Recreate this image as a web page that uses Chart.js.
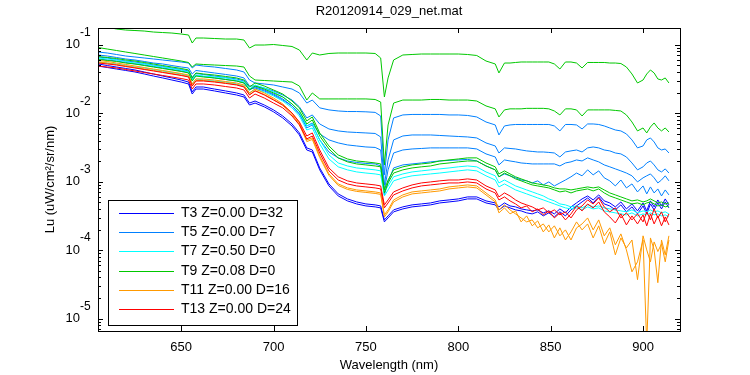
<!DOCTYPE html>
<html>
<head>
<meta charset="utf-8">
<script src="https://cdn.jsdelivr.net/npm/chart.js@4"></script>
<style>
  html, body { margin: 0; padding: 0; background: #fff; }
  #wrap { width: 750px; height: 375px; }
</style>
</head>
<body>
<div id="wrap"><canvas id="spectra" width="750" height="375"></canvas></div>
<script>
// Wavelength grid (nm) shared by every cast
const wl = [
  605, 610, 615, 620, 625, 630, 635, 640, 645, 650,
  654, 656, 658, 662, 668, 674, 680, 684, 687, 690,
  695, 700, 705, 710, 714, 718, 721, 725, 730, 735,
  740, 745, 750, 755, 758, 760, 762, 765, 770, 775,
  780, 785, 790, 795, 800, 805, 810, 815, 820, 822,
  825, 828, 831, 834, 837, 840, 843, 846, 849, 852,
  855, 858, 861, 864, 867, 870, 873, 876, 879, 882,
  885, 888, 891, 894, 897, 900, 902, 904, 906, 908,
  910, 912, 914
];

// T3 (dark blue)
const t3a = [
  .0490, .0466, .0443, .0422, .0401, .0375, .0350, .0328, .0306, .0286,
  .0268, .0191, .0226, .0226, .0212, .0198, .0185, .0173, .0132, .0141,
  .0124, .0105, .00854, .00653, .00482, .00291, .00272, .00149, .000868, .000620,
  .000525, .000474, .000443, .000429, .000415, .000259, .000296, .000363, .000401, .000429,
  .000443, .000459, .000490, .000507, .000525, .000561, .000561, .000490, .000459, .000388,
  .000443, .000415, .000388, .000375, .000351, .000339, .000363, .000317, .000351, .000306,
  .000363, .000317, .000388, .000443, .000507, .000580, .000490, .000600, .000474, .000443,
  .000388, .000459, .000363, .000429, .000339, .000443, .000339, .000474, .000388, .000490,
  .000401, .000507, .000415
];
const t3b = [
  .0525, .0498, .0474, .0451, .0429, .0401, .0375, .0350, .0328, .0306,
  .0286, .0205, .0242, .0242, .0226, .0212, .0198, .0185, .0141, .0151,
  .0132, .0112, .00913, .00698, .00516, .00312, .00291, .00159, .000929, .000664,
  .000561, .000507, .000474, .000459, .000443, .000277, .000317, .000388, .000429, .000459,
  .000474, .000490, .000525, .000542, .000561, .000600, .000600, .000525, .000490, .000429,
  .000490, .000443, .000429, .000401, .000388, .000375, .000388, .000351, .000375, .000339,
  .000401, .000351, .000429, .000490, .000561, .000620, .000542, .000642, .000525, .000490,
  .000429, .000507, .000401, .000474, .000375, .000490, .000375, .000525, .000429, .000542,
  .000443, .000561, .000459
];

// T5 (light blue)
const t5a = [
  .0785, .0759, .0722, .0686, .0664, .0642, .0621, .0600, .0580, .0561,
  .0542, .0459, .0507, .0490, .0474, .0451, .0429, .0401, .0306, .0277,
  .0268, .0259, .0242, .0226, .0198, .0141, .0156, .0120, .0112, .0108,
  .0106, .0106, .0105, .0103, .00913, .00126, .00408, .00854, .00945, .00961,
  .00961, .00961, .00961, .00945, .00945, .00929, .00883, .00746, .00675, .00482,
  .00653, .00675, .00686, .00686, .00686, .00686, .00686, .00686, .00686, .00653,
  .00552, .00686, .00686, .00675, .00590, .00698, .00698, .00686, .00653, .00610,
  .00570, .00552, .00499, .00408, .00312, .00333, .00408, .00436, .00381, .00312,
  .00291, .00301, .00263
];
const t5b = [
  .0710, .0686, .0653, .0621, .0600, .0571, .0542, .0525, .0498, .0474,
  .0459, .0375, .0422, .0408, .0388, .0369, .0350, .0328, .0250, .0250,
  .0234, .0212, .0185, .0156, .0124, .00854, .00945, .00698, .00590, .00552,
  .00533, .00524, .00516, .00507, .00451, .000898, .00208, .00408, .00466, .00482,
  .00482, .00482, .00474, .00466, .00458, .00451, .00436, .00369, .00333, .00263,
  .00312, .00306, .00301, .00291, .00282, .00277, .00272, .00272, .00268, .00263,
  .00230, .00272, .00282, .00291, .00272, .00312, .00322, .00312, .00291, .00282,
  .00263, .00255, .00230, .00188, .00149, .00165, .00188, .00201, .00176, .00149,
  .00139, .00154, .00134
];
const t5c = [
  .0664, .0642, .0610, .0580, .0561, .0533, .0507, .0482, .0459, .0436,
  .0415, .0339, .0381, .0369, .0350, .0333, .0317, .0296, .0226, .0234,
  .0212, .0185, .0156, .0128, .00977, .00653, .00722, .00499, .00408, .00369,
  .00345, .00333, .00322, .00317, .00291, .000759, .00149, .00263, .00291, .00301,
  .00306, .00312, .00312, .00312, .00312, .00312, .00301, .00255, .00230, .00176,
  .00208, .00201, .00195, .00188, .00185, .00182, .00182, .00182, .00182, .00182,
  .00170, .00188, .00195, .00208, .00201, .00223, .00208, .00195, .00176, .00165,
  .00154, .00144, .00134, .00122, .000993, .00114, .00122, .00130, .00114, .000960,
  .00106, .00122, .00103
];
const t5d = [
  .0621, .0600, .0580, .0552, .0525, .0507, .0482, .0459, .0436, .0415,
  .0394, .0317, .0356, .0345, .0328, .0312, .0296, .0277, .0219, .0242,
  .0219, .0191, .0162, .0128, .00977, .00610, .00675, .00408, .00272, .00223,
  .00201, .00191, .00185, .00182, .00170, .000642, .000993, .00159, .00176, .00182,
  .00188, .00195, .00201, .00205, .00208, .00212, .00201, .00170, .00149, .00118,
  .00130, .00122, .00114, .00106, .00103, .000960, .00103, .000898, .000993, .000868,
  .000960, .00106, .00118, .00134, .00122, .00149, .00126, .00144, .00114, .00103,
  .000868, .00106, .000812, .000929, .000710, .000868, .000664, .000840, .000686, .000785,
  .000620, .000759, .000642
];

// T7 (cyan)
const t7a = [
  .0642, .0621, .0600, .0571, .0542, .0525, .0498, .0474, .0451, .0429,
  .0401, .0306, .0362, .0350, .0339, .0328, .0306, .0286, .0226, .0259,
  .0234, .0205, .0173, .0137, .0105, .00653, .00698, .00408, .00246, .00188,
  .00170, .00159, .00154, .00149, .00144, .000710, .000868, .00118, .00130, .00139,
  .00144, .00149, .00154, .00159, .00165, .00170, .00165, .00139, .00122, .000960,
  .00106, .000960, .000868, .000812, .000759, .000710, .000664, .000620, .000561, .000525,
  .000474, .000459, .000429, .000443, .000415, .000459, .000429, .000443, .000415, .000401,
  .000388, .000375, .000363, .000388, .000351, .000375, .000363, .000388, .000363, .000375,
  .000351, .000363, .000339
];
const t7b = [
  .0561, .0542, .0525, .0498, .0474, .0459, .0436, .0415, .0394, .0375,
  .0350, .0268, .0317, .0306, .0296, .0286, .0268, .0250, .0198, .0226,
  .0205, .0179, .0151, .0120, .00913, .00570, .00610, .00356, .00215, .00165,
  .00149, .00139, .00134, .00130, .00126, .000620, .000759, .00103, .00114, .00122,
  .00126, .00130, .00134, .00139, .00144, .00149, .00144, .00122, .00106, .000840,
  .000929, .000840, .000759, .000710, .000664, .000620, .000580, .000542, .000507, .000474,
  .000443, .000415, .000401, .000415, .000388, .000429, .000401, .000415, .000375, .000363,
  .000351, .000339, .000328, .000351, .000317, .000339, .000328, .000351, .000328, .000339,
  .000317, .000328, .000306
];

// T9 (green)
const t9a = [
  .1945, .1819, .1700, .1644, .1617, .1590, .1537, .1511, .1486, .1437,
  .1390, .1062, .1257, .1257, .1236, .1215, .1215, .1175, .0898, .0993,
  .0993, .1010, .0977, .0945, .0840, .0600, .0759, .0710, .0747, .0759,
  .0759, .0759, .0759, .0747, .0642, .0173, .0328, .0600, .0710, .0722,
  .0734, .0734, .0734, .0734, .0734, .0722, .0698, .0580, .0525, .0388,
  .0542, .0542, .0552, .0561, .0561, .0561, .0561, .0561, .0561, .0525,
  .0443, .0561, .0561, .0542, .0459, .0552, .0552, .0552, .0552, .0542,
  .0542, .0533, .0474, .0375, .0277, .0306, .0375, .0429, .0388, .0317,
  .0306, .0328, .0277
];
const t9b = [
  .0913, .0868, .0826, .0785, .0747, .0710, .0675, .0642, .0610, .0580,
  .0552, .0474, .0525, .0516, .0507, .0498, .0490, .0474, .0350, .0306,
  .0301, .0296, .0291, .0286, .0250, .0156, .0198, .0162, .0162, .0162,
  .0162, .0162, .0162, .0159, .0146, .00176, .00675, .0141, .0156, .0156,
  .0156, .0159, .0159, .0156, .0156, .0156, .0151, .0128, .0116, .00883,
  .0112, .0116, .0116, .0116, .0118, .0118, .0118, .0118, .0116, .0108,
  .00945, .0116, .0116, .0112, .00913, .0112, .0112, .0112, .0112, .0112,
  .0110, .0108, .00945, .00746, .00552, .00610, .00516, .00631, .00722, .00610,
  .00552, .00610, .00533
];
const t9c = [
  .0675, .0653, .0631, .0600, .0580, .0552, .0525, .0498, .0474, .0451,
  .0429, .0328, .0388, .0375, .0362, .0345, .0328, .0306, .0242, .0277,
  .0250, .0219, .0191, .0151, .0120, .00772, .00883, .00516, .00333, .00246,
  .00215, .00201, .00195, .00188, .00182, .000759, .00106, .00149, .00165, .00176,
  .00182, .00188, .00201, .00208, .00215, .00223, .00223, .00188, .00165, .00130,
  .00144, .00130, .00118, .00110, .00103, .000960, .000929, .000898, .000868, .000812,
  .000785, .000785, .000759, .000785, .000812, .000840, .000812, .000840, .000759, .000686,
  .000642, .000600, .000561, .000525, .000542, .000507, .000525, .000561, .000525, .000490,
  .000507, .000474, .000490
];
const t9d = [
  .0610, .0590, .0571, .0542, .0525, .0498, .0474, .0451, .0429, .0408,
  .0388, .0296, .0350, .0339, .0328, .0312, .0296, .0277, .0219, .0250,
  .0226, .0198, .0173, .0137, .0108, .00698, .00798, .00466, .00301, .00223,
  .00195, .00182, .00176, .00170, .00165, .000686, .000960, .00134, .00149, .00159,
  .00165, .00170, .00182, .00188, .00195, .00201, .00201, .00170, .00149, .00118,
  .00134, .00122, .00110, .00103, .000960, .000898, .000868, .000840, .000812, .000759,
  .000710, .000734, .000686, .000734, .000759, .000785, .000734, .000785, .000686, .000620,
  .000580, .000542, .000507, .000474, .000490, .000459, .000490, .000507, .000474, .000443,
  .000459, .000429, .000443
];

// T11 (orange)
const t11a = [
  .0590, .0571, .0542, .0516, .0490, .0466, .0443, .0422, .0401, .0381,
  .0362, .0268, .0317, .0317, .0306, .0291, .0277, .0259, .0198, .0226,
  .0198, .0167, .0137, .0101, .00722, .00408, .00436, .00238, .00130, .000929,
  .000812, .000759, .000734, .000710, .000686, .000328, .000388, .000542, .000642, .000710,
  .000734, .000759, .000785, .000840, .000868, .000898, .000868, .000686, .000542, .000388,
  .000459, .000388, .000339, .000296, .000259, .000277, .000212, .000242, .000185, .000227,
  .000162, .000198, .000141, .000212, .000242, .000296, .000198, .000277, .000162, .000212,
  .000120, .000173, .000101, .0000483, .0000676, .000141, .0000042, .000151, .000101, .0000335,
  .000141, .0000854, .000162
];
const t11b = [
  .0561, .0542, .0516, .0490, .0466, .0443, .0422, .0401, .0381, .0362,
  .0345, .0254, .0301, .0301, .0291, .0277, .0263, .0246, .0188, .0215,
  .0188, .0159, .0130, .00961, .00686, .00386, .00414, .00226, .00124, .000883,
  .000772, .000722, .000698, .000675, .000653, .000306, .000363, .000507, .000600, .000664,
  .000686, .000710, .000734, .000785, .000812, .000840, .000812, .000642, .000507, .000351,
  .000415, .000339, .000375, .000259, .000317, .000227, .000268, .000185, .000234, .000151,
  .000212, .000141, .000185, .000259, .000198, .000242, .000151, .000227, .000124, .000185,
  .0000854, .000151, .000108, .000141, .0000371, .000162, .000101, .0000676, .000132, .0000955,
  .000124, .0000676, .000141
];

// T13 (red)
const t13a = [
  .0542, .0525, .0507, .0482, .0459, .0436, .0415, .0394, .0375, .0356,
  .0339, .0250, .0296, .0296, .0286, .0273, .0259, .0242, .0185, .0212,
  .0185, .0156, .0132, .0101, .00746, .00466, .00516, .00291, .00159, .00118,
  .00103, .000960, .000929, .000898, .000868, .000459, .000542, .000710, .000812, .000898,
  .000960, .000993, .00103, .00106, .00106, .00110, .00106, .000868, .000759, .000600,
  .000686, .000620, .000542, .000490, .000459, .000429, .000388, .000415, .000351, .000388,
  .000328, .000363, .000296, .000388, .000443, .000542, .000474, .000580, .000429, .000363,
  .000415, .000296, .000351, .000277, .000339, .000259, .000363, .000277, .000401, .000296,
  .000363, .000259, .000339
];
const t13b = [
  .0490, .0474, .0459, .0436, .0415, .0394, .0375, .0356, .0339, .0322,
  .0306, .0226, .0268, .0268, .0259, .0246, .0234, .0219, .0167, .0191,
  .0167, .0141, .0120, .00913, .00675, .00422, .00466, .00263, .00144, .00106,
  .000929, .000868, .000840, .000812, .000785, .000415, .000490, .000642, .000734, .000812,
  .000868, .000898, .000929, .000960, .000960, .000993, .000960, .000785, .000686, .000542,
  .000600, .000525, .000474, .000415, .000443, .000363, .000401, .000328, .000375, .000296,
  .000351, .000277, .000339, .000443, .000375, .000474, .000415, .000507, .000363, .000306,
  .000250, .000339, .000234, .000317, .000242, .000328, .000227, .000339, .000242, .000317,
  .000227, .000306, .000234
];

const legendLabels = ['T3 Z=0.00 D=32', 'T5 Z=0.00 D=7', 'T7 Z=0.50 D=0', 'T9 Z=0.08 D=0', 'T11 Z=0.00 D=16', 'T13 Z=0.00 D=24'];
const lineColors = ['#0000ff', '#0080ff', '#00ffff', '#00c800', '#ff9900', '#ff0000'];
const seriesByGroup = [[t3a, t3b], [t5a, t5b, t5c, t5d], [t7a, t7b], [t9a, t9b, t9c, t9d], [t11a, t11b], [t13a, t13b]];

const xTicks = [650, 700, 750, 800, 850, 900];
const yExponents = [-5, -4, -3, -2, -1];

const FONT = '"Liberation Sans", Arial, sans-serif';

// build datasets, first line of each group carries the legend label
const datasets = [];
seriesByGroup.forEach((lines, g) => {
    lines.forEach((vals, k) => {
        datasets.push({
            label: k === 0 ? legendLabels[g] : '',
            data: vals.map((v, i) => ({ x: wl[i], y: v })),
            borderColor: lineColors[g],
            borderWidth: 1,
            pointRadius: 0,
            tension: 0,
            fill: false
        });
    });
});
// later groups are painted on top (matlab plot order)
datasets.forEach((d, i) => { d.order = datasets.length - i; });

// axes box, inward ticks, labels, title and legend drawn matlab style
const matlabAxes = {
    id: 'matlabAxes',
    afterDatasetsDraw(chart) {
        const { ctx, chartArea: a, scales: { x, y } } = chart;
        ctx.save();
        ctx.strokeStyle = '#000';
        ctx.fillStyle = '#000';
        ctx.lineWidth = 1;

        ctx.strokeRect(a.left + 0.5, a.top + 0.5, a.right - a.left, a.bottom - a.top);

        ctx.beginPath();
        xTicks.forEach(v => {
            const px = Math.round(x.getPixelForValue(v)) + 0.5;
            ctx.moveTo(px, a.bottom); ctx.lineTo(px, a.bottom - 5);
            ctx.moveTo(px, a.top); ctx.lineTo(px, a.top + 5);
        });
        [-6].concat(yExponents).forEach(e => {
            for (let m = 1; m <= 9; m++) {
                const v = m * Math.pow(10, e);
                if (v < y.min || v > y.max) continue;
                const py = Math.round(y.getPixelForValue(v)) + 0.5;
                const len = m === 1 ? 5 : 3;
                ctx.moveTo(a.left, py); ctx.lineTo(a.left + len, py);
                ctx.moveTo(a.right, py); ctx.lineTo(a.right - len, py);
            }
        });
        ctx.stroke();

        // tick labels
        ctx.font = '13px ' + FONT;
        ctx.textAlign = 'center';
        ctx.textBaseline = 'middle';
        xTicks.forEach(v => {
            ctx.fillText(String(v), x.getPixelForValue(v), a.bottom + 16);
        });
        yExponents.forEach(e => {
            const py = y.getPixelForValue(Math.pow(10, e));
            ctx.font = '13px ' + FONT;
            ctx.textAlign = 'right';
            ctx.fillText('10', 80, py);
            ctx.font = '12px ' + FONT;
            ctx.textAlign = 'left';
            ctx.fillText(String(e), 80, py - 12);
        });

        // title and axis titles
        const cx = (a.left + a.right) / 2;
        ctx.font = '13px ' + FONT;
        ctx.textAlign = 'center';
        ctx.fillText('R20120914_029_net.mat', cx, 11);
        ctx.fillText('Wavelength (nm)', cx, 365);
        ctx.save();
        ctx.translate(50, (a.top + a.bottom) / 2);
        ctx.rotate(-Math.PI / 2);
        ctx.fillText('Lu (uW/cm\u00b2/sr/nm)', 0, 0);
        ctx.restore();

        // legend box
        const lx = 108, ly = 200, lw = 189, lh = 125;
        ctx.fillStyle = '#fff';
        ctx.fillRect(lx, ly, lw, lh);
        ctx.strokeStyle = '#000';
        ctx.strokeRect(lx + 0.5, ly + 0.5, lw, lh);
        ctx.font = '14px ' + FONT;
        ctx.textAlign = 'left';
        legendLabels.forEach((label, i) => {
            const ry = Math.round(213 + i * 19.2) + 0.5;
            ctx.strokeStyle = lineColors[i];
            ctx.beginPath();
            ctx.moveTo(119, ry);
            ctx.lineTo(174, ry);
            ctx.stroke();
            ctx.fillStyle = '#000';
            ctx.fillText(label, 181, ry);
        });
        ctx.restore();
    }
};

new Chart(document.getElementById('spectra'), {
    type: 'line',
    data: { datasets: datasets },
    options: {
        responsive: false,
        animation: false,
        devicePixelRatio: 1,
        layout: { padding: { left: 98, right: 70, top: 28, bottom: 44 } },
        scales: {
            x: { type: 'linear', min: 605, max: 920, display: false },
            y: { type: 'logarithmic', min: 6.6e-6, max: 0.176, display: false }
        },
        plugins: {
            legend: { display: false },
            tooltip: { enabled: false }
        }
    },
    plugins: [matlabAxes]
});
</script>
</body>
</html>
